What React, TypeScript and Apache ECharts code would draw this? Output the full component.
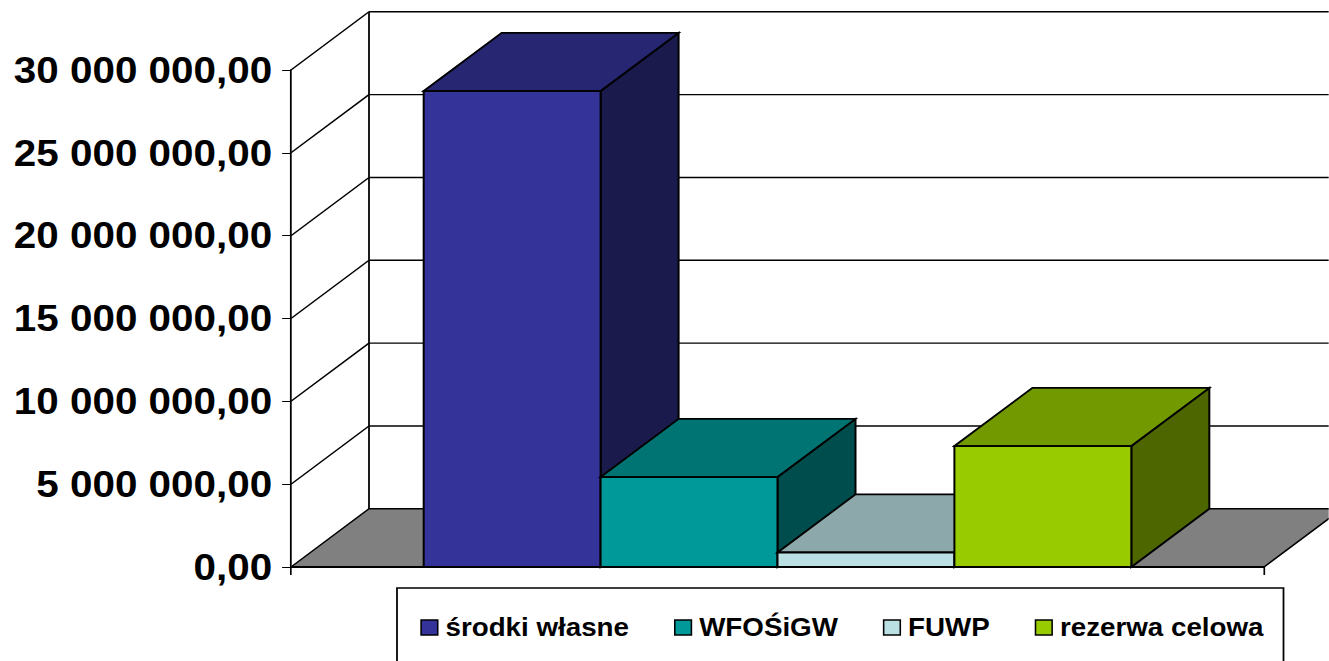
import React, { useEffect, useRef } from "react";
import * as echarts from "echarts";

const categories = ["Razem"];
const seriesNames = ["środki własne", "WFOŚiGW", "FUWP", "rezerwa celowa"];
const seriesValues = [28730000, 5430000, 875000, 7300000];
const frontColors = ["#333399", "#009999", "#BBE0E3", "#99CC00"];
const topColors = ["#262673", "#007373", "#8CA8AA", "#739900"];
const sideColors = ["#1A1A4D", "#004D4D", "#5E7072", "#4D6600"];
const yTicks = [0, 5000000, 10000000, 15000000, 20000000, 25000000, 30000000];
const yTickLabels = ["0,00", "5 000 000,00", "10 000 000,00", "15 000 000,00", "20 000 000,00", "25 000 000,00", "30 000 000,00"];

const SX = 1.11;
const W = 1329 / SX;
const DX = 78 / SX;
const DY = 58.2;
const FONT = '"Liberation Sans", Arial, sans-serif';

function renderWall(_p: any, api: any) {
  const v = api.value(1);
  const [x0, y] = api.coord([0, v]);
  const band = api.size([1, 0])[0];
  const left = x0 - band / 2;
  const right = x0 + band / 2;
  const children: any[] = [];
  const line = (x1: number, y1: number, x2: number, y2: number, lw = 1.4) => ({
    type: "line",
    shape: { x1, y1, x2, y2 },
    style: { stroke: "#000", lineWidth: lw, fill: null },
  });
  if (v === 0) {
    children.push({
      type: "polygon",
      shape: { points: [[left, y], [left + DX, y - DY], [right + DX, y - DY], [right, y]] },
      style: { fill: "#808080", stroke: "#000", lineWidth: 1.4 },
    });
    const top = api.coord([0, yTicks[yTicks.length - 1]])[1];
    children.push(line(left + DX, y - DY, left + DX, top - DY, 1.6));
  } else {
    children.push(line(left, y, left + DX, y - DY));
    children.push(line(left + DX, y - DY, right + DX, y - DY));
  }
  return { type: "group", children };
}

function renderBar(i: number) {
  return (_p: any, api: any) => {
    const [cx, yTop] = api.coord([0, api.value(1)]);
    const [, yBase] = api.coord([0, 0]);
    const band = api.size([1, 0])[0];
    const w = band / 5.5;
    const x1 = cx - band / 2 + w * 0.75 + i * w;
    const x2 = x1 + w;
    const edge = { stroke: "#000", lineWidth: 1.8, lineJoin: "miter" };
    return {
      type: "group",
      children: [
        {
          type: "polygon",
          shape: { points: [[x2, yTop], [x2 + DX, yTop - DY], [x2 + DX, yBase - DY], [x2, yBase]] },
          style: { fill: sideColors[i], ...edge },
        },
        {
          type: "polygon",
          shape: { points: [[x1, yTop], [x1 + DX, yTop - DY], [x2 + DX, yTop - DY], [x2, yTop]] },
          style: { fill: topColors[i], ...edge },
        },
        {
          type: "rect",
          shape: { x: x1, y: yTop, width: w, height: yBase - yTop },
          style: { fill: frontColors[i], ...edge },
        },
      ],
    };
  };
}

export default function App() {
  const ref = useRef<HTMLDivElement>(null);
  useEffect(() => {
    const chart = echarts.init(ref.current!, undefined, { renderer: "svg" });
    chart.setOption({
      animation: false,
      backgroundColor: "#fff",
      grid: { left: 291 / SX, top: 70, width: 973 / SX, height: 497, containLabel: false },
      legend: {
        left: 397 / SX,
        top: 588,
        orient: "horizontal",
        icon: "rect",
        itemWidth: 15,
        itemHeight: 15,
        itemGap: 40.5,
        padding: [27, 18, 64, 21],
        borderColor: "#000",
        borderWidth: 1.6,
        backgroundColor: "#fff",
        itemStyle: { borderColor: "#000", borderWidth: 1.4 },
        textStyle: { fontFamily: FONT, fontWeight: "bold", fontSize: 25, color: "#000", padding: [0, 0, 0, 2] },
        data: seriesNames,
      },
      xAxis: {
        type: "category",
        data: categories,
        z: 10,
        axisLine: { show: true, lineStyle: { color: "#000", width: 2 } },
        axisTick: { show: true, length: 8, lineStyle: { color: "#000", width: 1.5 } },
        axisLabel: { show: false },
        splitLine: { show: false },
      },
      yAxis: {
        type: "value",
        min: 0,
        max: 30000000,
        interval: 5000000,
        z: 10,
        axisLine: { show: true, lineStyle: { color: "#000", width: 1.6 } },
        axisTick: { show: true, length: 8, lineStyle: { color: "#000", width: 1 } },
        splitLine: { show: false },
        axisLabel: {
          margin: 17,
          fontFamily: FONT,
          fontWeight: "bold",
          fontSize: 36.4,
          color: "#000",
          padding: [2, 0, 0, 0],
          formatter: (v: number) => yTickLabels[yTicks.indexOf(v)],
        },
      },
      series: [
        {
          type: "custom",
          name: "__walls",
          silent: true,
          renderItem: renderWall,
          encode: { x: 0, y: 1 },
          data: yTicks.map((t) => [0, t]),
          z: 1,
        },
        ...seriesNames.map((name, i) => ({
          type: "custom",
          name,
          renderItem: renderBar(i),
          encode: { x: 0, y: 1 },
          itemStyle: { color: frontColors[i] },
          data: [[0, seriesValues[i]]],
          z: 2 + i,
        })),
      ],
    });
    return () => chart.dispose();
  }, []);
  return (
    <div
      ref={ref}
      style={{
        position: "absolute",
        left: 0,
        top: 0,
        width: W,
        height: 661,
        transform: `scaleX(${SX})`,
        transformOrigin: "0 0",
      }}
    />
  );
}
